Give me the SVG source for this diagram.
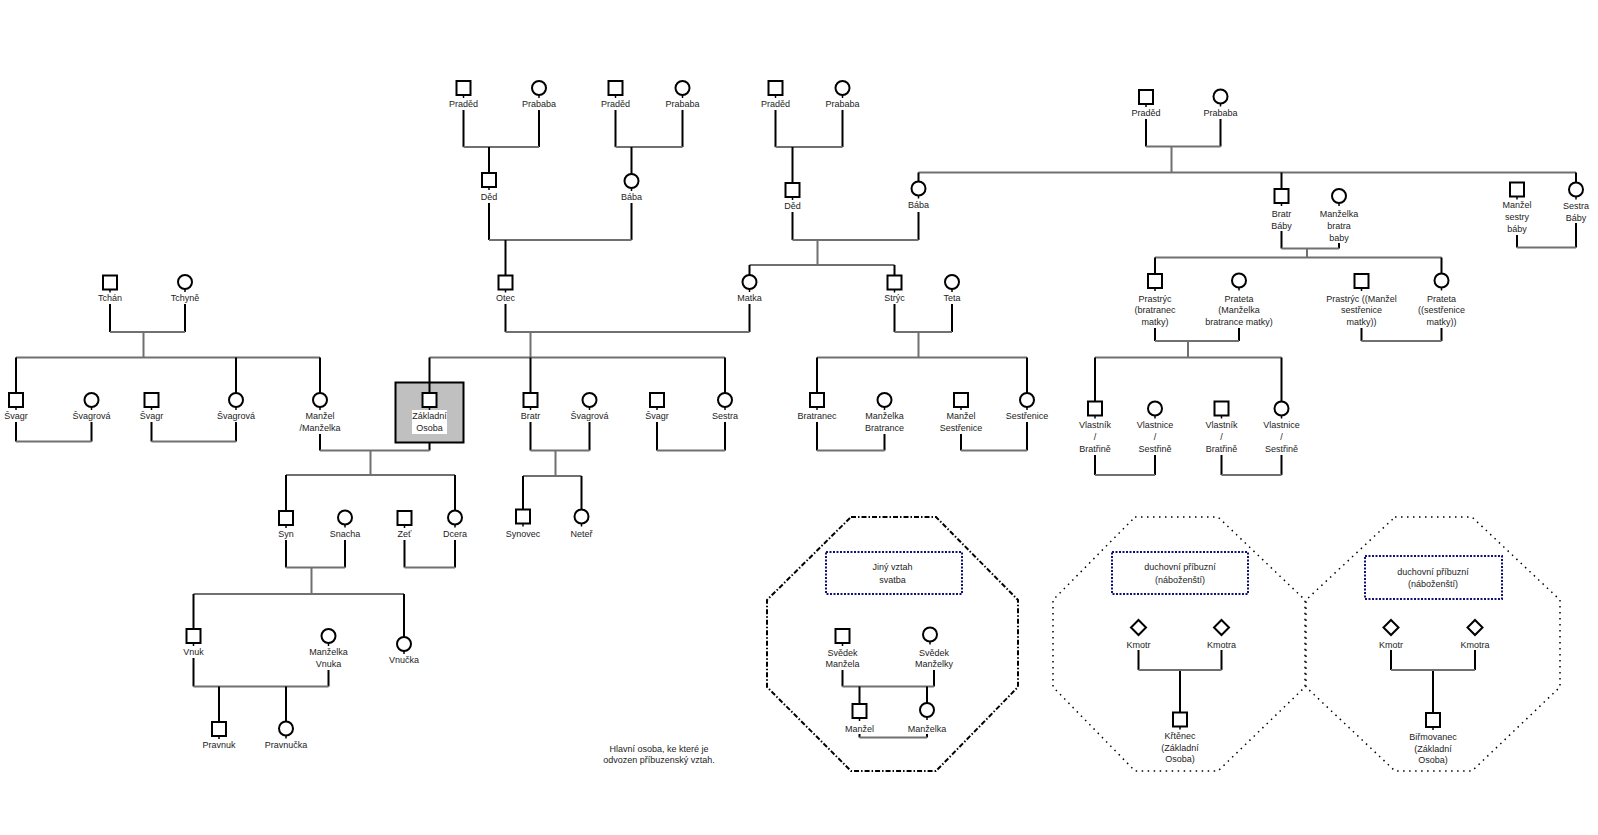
<svg xmlns="http://www.w3.org/2000/svg" xmlns:xlink="http://www.w3.org/1999/xlink" width="1598" height="835" viewBox="0 0 1598 835">
<style>
.s{fill:#fff;stroke:#000;stroke-width:2}
.t{font-family:"Liberation Sans",Arial,sans-serif;font-size:9px;fill:#1c1c1c;text-anchor:middle}
.k{stroke:#000;stroke-width:2;fill:none}
.g{stroke:#707070;stroke-width:2;fill:none}
.st{stroke:#000;stroke-width:1.5}
.o1{fill:none;stroke:#000;stroke-width:2;stroke-dasharray:5 2 1.5 2}
.o2{fill:none;stroke:#000;stroke-width:1.5;stroke-dasharray:1.5 4.5}
.bl{fill:#fff;stroke:#10107a;stroke-width:2;stroke-dasharray:2 1.5}
</style>
<defs>
<rect id="sq" class="s" x="-7" y="-7" width="14" height="14"/>
<circle id="ci" class="s" r="7"/>
<path id="di" class="s" d="M0 -7.5 L7.5 0 L0 7.5 L-7.5 0 Z"/>
<line id="sb" class="st" x1="0" y1="7" x2="0" y2="10"/>
</defs>
<rect width="1598" height="835" fill="#fff"/>

<g id="connectors">
<!-- generation of great-grandparents -->
<path class="k" d="M463.5 110V147M539 110V147M615.5 110V147M682.5 110V147M775.5 110V147M842.5 110V147"/>
<path class="g" d="M463.5 147H539M615.5 147H682.5M775.5 147H842.5"/>
<path class="k" d="M489 147V173M631.5 147V174M792.5 147V183"/>
<!-- grandparents -->
<path class="k" d="M489 203V240M631.5 203V240M792.5 212V240M918.5 212V240"/>
<path class="g" d="M489 240H631.5M792.5 240H918.5"/>
<path class="k" d="M505.5 240V275.5"/>
<path class="g" d="M817.5 240V265M749.5 265H894.5"/>
<path class="k" d="M749.5 265V275M894.5 265V275.5"/>
<!-- parents generation -->
<path class="k" d="M110 304V332M185 304V332M505.5 304V332M749.5 304V332M894.5 304V332M952 304V332"/>
<path class="g" d="M110 332H185M505.5 332H749.5M894.5 332H952"/>
<path class="g" d="M143.5 332V357.5M530.5 332V357.5M918.5 332V357.5"/>
<path class="g" d="M16 357.5H320M429.5 357.5H725M817 357.5H1027"/>
<path class="k" d="M16 357.5V393M236 357.5V393M320 357.5V393M429.5 357.5V393M530.5 357.5V393M725 357.5V393M817 357.5V393M1027 357.5V393"/>
<!-- couples of generation 0 -->
<path class="k" d="M16 422V441.5M91.5 422V441.5M151.5 422V441.5M236 422V441.5"/>
<path class="g" d="M16 441.5H91.5M151.5 441.5H236"/>
<path class="k" d="M320 434V450.5M429.5 434V450.5M530.5 422V450.5M589.5 422V450.5M657 422V450.5M725 422V450.5M817 422V450.5M884.5 434V450.5M961 434V450.5M1027 422V450.5"/>
<path class="g" d="M320 450.5H429.5M530.5 450.5H589.5M657 450.5H725M817 450.5H884.5M961 450.5H1027"/>
<!-- children -->
<path class="g" d="M370.5 450.5V475M286 475H455M555.5 450.5V476M523 476H581.5"/>
<path class="k" d="M286 475V511M455 475V510.5M523 476V509.5M581.5 476V509.5"/>
<path class="k" d="M286 540V567.5M345 540V567.5M404.5 540V567.5M455 540V567.5"/>
<path class="g" d="M286 567.5H345M404.5 567.5H455M311.5 567.5V594M193.5 594H404"/>
<path class="k" d="M193.5 594V629M404 594V637"/>
<path class="k" d="M193.5 658V686.5M328.5 670V686.5"/>
<path class="g" d="M193.5 686.5H328.5"/>
<path class="k" d="M219 686.5V722M286 686.5V721.5"/>
<!-- right family -->
<path class="k" d="M1146 119V146.5M1220.5 119V146.5"/>
<path class="g" d="M1146 146.5H1220.5M1171.5 146.5V172.5M918.5 172.5H1576"/>
<path class="k" d="M918.5 172.5V181.5M1281.5 172.5V189M1576 172.5V182.5"/>
<path class="k" d="M1281.5 231V248.5M1339 243V248.5M1517 235V247.5M1576 223V247.5"/>
<path class="g" d="M1281.5 248.5H1339M1517 247.5H1576M1307 248.5V257.5M1155 257.5H1441.5"/>
<path class="k" d="M1155 257.5V274M1441.5 257.5V273.5"/>
<path class="k" d="M1155 328V341M1239 328V341M1361.5 328V341M1441.5 328V341"/>
<path class="g" d="M1155 341H1239M1361.5 341H1441.5M1188 341V357.5M1095 357.5H1281.5"/>
<path class="k" d="M1095 357.5V401.5M1281.5 357.5V401.5"/>
<path class="k" d="M1095 455V475M1155 455V475M1221.5 455V475M1281.5 455V475"/>
<path class="g" d="M1095 475H1155M1221.5 475H1281.5"/>
<!-- wedding -->
<path class="k" d="M842.5 670V686.5M934 670V686.5"/>
<path class="g" d="M842.5 686.5H934"/>
<path class="k" d="M859.5 686.5V704M927 686.5V703"/>
<path class="k" d="M859.5 734V737.5M927 734V737.5"/>
<path class="g" d="M859.5 737.5H927"/>
<!-- godparents -->
<path class="k" d="M1138.5 650V670M1221.5 650V670M1180 670V712.5M1391 650V670M1475 650V670M1433 670V713"/>
<path class="g" d="M1138.5 670H1221.5M1391 670H1475"/>
</g>

<g id="frames">
<polygon id="oct1" class="o1" points="851,517 936,517 1018,600 1018,687 936,771 851,771 767,687 767,600"/>
<polygon id="oct2" class="o2" points="1135,517 1218,517 1305,600 1305,687 1218,771 1135,771 1053,687 1053,600"/>
<polygon id="oct3" class="o2" points="1395,517 1472,517 1560,600 1560,687 1472,771 1395,771 1306,687 1306,600"/>
</g>

<g id="n-praded1"><use xlink:href="#sq" x="463.5" y="88"/><use xlink:href="#sb" x="463.5" y="88"/><text class="t" x="463.5" y="107">Praděd</text></g>
<g id="n-prababa1"><use xlink:href="#ci" x="539" y="88"/><use xlink:href="#sb" x="539" y="88"/><text class="t" x="539" y="107">Prababa</text></g>
<g id="n-praded2"><use xlink:href="#sq" x="615.5" y="88"/><use xlink:href="#sb" x="615.5" y="88"/><text class="t" x="615.5" y="107">Praděd</text></g>
<g id="n-prababa2"><use xlink:href="#ci" x="682.5" y="88"/><use xlink:href="#sb" x="682.5" y="88"/><text class="t" x="682.5" y="107">Prababa</text></g>
<g id="n-praded3"><use xlink:href="#sq" x="775.5" y="88"/><use xlink:href="#sb" x="775.5" y="88"/><text class="t" x="775.5" y="107">Praděd</text></g>
<g id="n-prababa3"><use xlink:href="#ci" x="842.5" y="88"/><use xlink:href="#sb" x="842.5" y="88"/><text class="t" x="842.5" y="107">Prababa</text></g>
<g id="n-praded4"><use xlink:href="#sq" x="1146" y="97"/><use xlink:href="#sb" x="1146" y="97"/><text class="t" x="1146" y="116">Praděd</text></g>
<g id="n-prababa4"><use xlink:href="#ci" x="1220.5" y="96.5"/><use xlink:href="#sb" x="1220.5" y="96.5"/><text class="t" x="1220.5" y="116">Prababa</text></g>

<g id="n-ded1"><use xlink:href="#sq" x="489" y="180"/><use xlink:href="#sb" x="489" y="180"/><text class="t" x="489" y="200">Děd</text></g>
<g id="n-baba1"><use xlink:href="#ci" x="631.5" y="181"/><use xlink:href="#sb" x="631.5" y="181"/><text class="t" x="631.5" y="200">Bába</text></g>
<g id="n-ded2"><use xlink:href="#sq" x="792.5" y="190"/><use xlink:href="#sb" x="792.5" y="190"/><text class="t" x="792.5" y="208.5">Děd</text></g>
<g id="n-baba2"><use xlink:href="#ci" x="918.5" y="188.5"/><use xlink:href="#sb" x="918.5" y="188.5"/><text class="t" x="918.5" y="208">Bába</text></g>

<g id="n-tchan"><use xlink:href="#sq" x="110" y="282.5"/><use xlink:href="#sb" x="110" y="282.5"/><text class="t" x="110" y="301">Tchán</text></g>
<g id="n-tchyne"><use xlink:href="#ci" x="185" y="282"/><use xlink:href="#sb" x="185" y="282"/><text class="t" x="185" y="301">Tchyně</text></g>
<g id="n-otec"><use xlink:href="#sq" x="505.5" y="282.5"/><use xlink:href="#sb" x="505.5" y="282.5"/><text class="t" x="505.5" y="301">Otec</text></g>
<g id="n-matka"><use xlink:href="#ci" x="749.5" y="282"/><use xlink:href="#sb" x="749.5" y="282"/><text class="t" x="749.5" y="301">Matka</text></g>
<g id="n-stryc"><use xlink:href="#sq" x="894.5" y="282.5"/><use xlink:href="#sb" x="894.5" y="282.5"/><text class="t" x="894.5" y="301">Strýc</text></g>
<g id="n-teta"><use xlink:href="#ci" x="952" y="282"/><use xlink:href="#sb" x="952" y="282"/><text class="t" x="952" y="301">Teta</text></g>

<g id="n-svagr1"><use xlink:href="#sq" x="16" y="400"/><use xlink:href="#sb" x="16" y="400"/><text class="t" x="16" y="419">Švagr</text></g>
<g id="n-svagrova1"><use xlink:href="#ci" x="91.5" y="400"/><use xlink:href="#sb" x="91.5" y="400"/><text class="t" x="91.5" y="419">Švagrová</text></g>
<g id="n-svagr2"><use xlink:href="#sq" x="151.5" y="400"/><use xlink:href="#sb" x="151.5" y="400"/><text class="t" x="151.5" y="419">Švagr</text></g>
<g id="n-svagrova2"><use xlink:href="#ci" x="236" y="400"/><use xlink:href="#sb" x="236" y="400"/><text class="t" x="236" y="419">Švagrová</text></g>
<g id="n-manzel"><use xlink:href="#ci" x="320" y="400"/><use xlink:href="#sb" x="320" y="400"/><text class="t" x="320" y="419">Manžel</text><text class="t" x="320" y="431">/Manželka</text></g>
<g id="n-zakladni"><rect x="395.5" y="382.5" width="68" height="60" fill="#c0c0c0" stroke="#000" stroke-width="2"/><path class="k" d="M429.5 382.5V393"/><use xlink:href="#sq" x="429.5" y="400"/><use xlink:href="#sb" x="429.5" y="400"/><rect x="412" y="410" width="35" height="24" fill="#fff"/><text class="t" x="429.5" y="419">Základní</text><text class="t" x="429.5" y="431">Osoba</text></g>
<g id="n-bratr"><use xlink:href="#sq" x="530.5" y="400"/><use xlink:href="#sb" x="530.5" y="400"/><text class="t" x="530.5" y="419">Bratr</text></g>
<g id="n-svagrova3"><use xlink:href="#ci" x="589.5" y="400"/><use xlink:href="#sb" x="589.5" y="400"/><text class="t" x="589.5" y="419">Švagrová</text></g>
<g id="n-svagr3"><use xlink:href="#sq" x="657" y="400"/><use xlink:href="#sb" x="657" y="400"/><text class="t" x="657" y="419">Švagr</text></g>
<g id="n-sestra"><use xlink:href="#ci" x="725" y="400"/><use xlink:href="#sb" x="725" y="400"/><text class="t" x="725" y="419">Sestra</text></g>
<g id="n-bratranec"><use xlink:href="#sq" x="817" y="400"/><use xlink:href="#sb" x="817" y="400"/><text class="t" x="817" y="419">Bratranec</text></g>
<g id="n-manzelka-bratrance"><use xlink:href="#ci" x="884.5" y="400"/><use xlink:href="#sb" x="884.5" y="400"/><text class="t" x="884.5" y="419">Manželka</text><text class="t" x="884.5" y="431">Bratrance</text></g>
<g id="n-manzel-sestrenice"><use xlink:href="#sq" x="961" y="400"/><use xlink:href="#sb" x="961" y="400"/><text class="t" x="961" y="419">Manžel</text><text class="t" x="961" y="431">Sestřenice</text></g>
<g id="n-sestrenice"><use xlink:href="#ci" x="1027" y="400"/><use xlink:href="#sb" x="1027" y="400"/><text class="t" x="1027" y="419">Sestřenice</text></g>

<g id="n-syn"><use xlink:href="#sq" x="286" y="518"/><use xlink:href="#sb" x="286" y="518"/><text class="t" x="286" y="537">Syn</text></g>
<g id="n-snacha"><use xlink:href="#ci" x="345" y="517.5"/><use xlink:href="#sb" x="345" y="517.5"/><text class="t" x="345" y="537">Snacha</text></g>
<g id="n-zet"><use xlink:href="#sq" x="404.5" y="518"/><use xlink:href="#sb" x="404.5" y="518"/><text class="t" x="404.5" y="537">Zeť</text></g>
<g id="n-dcera"><use xlink:href="#ci" x="455" y="517.5"/><use xlink:href="#sb" x="455" y="517.5"/><text class="t" x="455" y="537">Dcera</text></g>
<g id="n-synovec"><use xlink:href="#sq" x="523" y="516.5"/><use xlink:href="#sb" x="523" y="516.5"/><text class="t" x="523" y="537">Synovec</text></g>
<g id="n-neter"><use xlink:href="#ci" x="581.5" y="516.5"/><use xlink:href="#sb" x="581.5" y="516.5"/><text class="t" x="581.5" y="537">Neteř</text></g>

<g id="n-vnuk"><use xlink:href="#sq" x="193.5" y="636"/><use xlink:href="#sb" x="193.5" y="636"/><text class="t" x="193.5" y="655">Vnuk</text></g>
<g id="n-manzelka-vnuka"><use xlink:href="#ci" x="328.5" y="636"/><use xlink:href="#sb" x="328.5" y="636"/><text class="t" x="328.5" y="655">Manželka</text><text class="t" x="328.5" y="667">Vnuka</text></g>
<g id="n-vnucka"><use xlink:href="#ci" x="404" y="644"/><use xlink:href="#sb" x="404" y="644"/><text class="t" x="404" y="663">Vnučka</text></g>
<g id="n-pravnuk"><use xlink:href="#sq" x="219" y="729"/><use xlink:href="#sb" x="219" y="729"/><text class="t" x="219" y="747.5">Pravnuk</text></g>
<g id="n-pravnucka"><use xlink:href="#ci" x="286" y="728.5"/><use xlink:href="#sb" x="286" y="728.5"/><text class="t" x="286" y="747.5">Pravnučka</text></g>

<g id="n-bratr-baby"><use xlink:href="#sq" x="1281.5" y="196"/><use xlink:href="#sb" x="1281.5" y="196"/><text class="t" x="1281.5" y="216.5">Bratr</text><text class="t" x="1281.5" y="228.5">Báby</text></g>
<g id="n-manzelka-bratra"><use xlink:href="#ci" x="1339" y="196"/><use xlink:href="#sb" x="1339" y="196"/><text class="t" x="1339" y="217">Manželka</text><text class="t" x="1339" y="229">bratra</text><text class="t" x="1339" y="240.5">baby</text></g>
<g id="n-manzel-sestry"><use xlink:href="#sq" x="1517" y="189.5"/><use xlink:href="#sb" x="1517" y="189.5"/><text class="t" x="1517" y="208">Manžel</text><text class="t" x="1517" y="220">sestry</text><text class="t" x="1517" y="231.5">báby</text></g>
<g id="n-sestra-baby"><use xlink:href="#ci" x="1576" y="189.5"/><use xlink:href="#sb" x="1576" y="189.5"/><text class="t" x="1576" y="208.5">Sestra</text><text class="t" x="1576" y="220.5">Báby</text></g>

<g id="n-prastryc1"><use xlink:href="#sq" x="1155" y="281"/><use xlink:href="#sb" x="1155" y="281"/><text class="t" x="1155" y="301.5">Prastrýc</text><text class="t" x="1155" y="313">(bratranec</text><text class="t" x="1155" y="325">matky)</text></g>
<g id="n-prateta1"><use xlink:href="#ci" x="1239" y="280.5"/><use xlink:href="#sb" x="1239" y="280.5"/><text class="t" x="1239" y="301.5">Prateta</text><text class="t" x="1239" y="313">(Manželka</text><text class="t" x="1239" y="325">bratrance matky)</text></g>
<g id="n-prastryc2"><use xlink:href="#sq" x="1361.5" y="281"/><use xlink:href="#sb" x="1361.5" y="281"/><text class="t" x="1361.5" y="301.5">Prastrýc ((Manžel</text><text class="t" x="1361.5" y="313">sestřenice</text><text class="t" x="1361.5" y="325">matky))</text></g>
<g id="n-prateta2"><use xlink:href="#ci" x="1441.5" y="280.5"/><use xlink:href="#sb" x="1441.5" y="280.5"/><text class="t" x="1441.5" y="301.5">Prateta</text><text class="t" x="1441.5" y="313">((sestřenice</text><text class="t" x="1441.5" y="325">matky))</text></g>

<g id="n-vlastnik1"><use xlink:href="#sq" x="1095" y="408.5"/><use xlink:href="#sb" x="1095" y="408.5"/><text class="t" x="1095" y="427.5">Vlastník</text><text class="t" x="1095" y="439.5">/</text><text class="t" x="1095" y="451.5">Bratřině</text></g>
<g id="n-vlastnice1"><use xlink:href="#ci" x="1155" y="408.5"/><use xlink:href="#sb" x="1155" y="408.5"/><text class="t" x="1155" y="427.5">Vlastnice</text><text class="t" x="1155" y="439.5">/</text><text class="t" x="1155" y="451.5">Sestřině</text></g>
<g id="n-vlastnik2"><use xlink:href="#sq" x="1221.5" y="408.5"/><use xlink:href="#sb" x="1221.5" y="408.5"/><text class="t" x="1221.5" y="427.5">Vlastník</text><text class="t" x="1221.5" y="439.5">/</text><text class="t" x="1221.5" y="451.5">Bratřině</text></g>
<g id="n-vlastnice2"><use xlink:href="#ci" x="1281.5" y="408.5"/><use xlink:href="#sb" x="1281.5" y="408.5"/><text class="t" x="1281.5" y="427.5">Vlastnice</text><text class="t" x="1281.5" y="439.5">/</text><text class="t" x="1281.5" y="451.5">Sestřině</text></g>

<g id="n-caption"><text class="t" x="659" y="752">Hlavní osoba, ke které je</text><text class="t" x="659" y="763">odvozen příbuzenský vztah.</text></g>

<g id="n-svatba-title"><rect class="bl" x="826" y="552" width="136" height="42"/><text class="t" x="892.5" y="570">Jiný vztah</text><text class="t" x="892.5" y="582.5">svatba</text></g>
<g id="n-svedek-manzela"><use xlink:href="#sq" x="842.5" y="636"/><use xlink:href="#sb" x="842.5" y="636"/><text class="t" x="842.5" y="655.5">Svědek</text><text class="t" x="842.5" y="667">Manžela</text></g>
<g id="n-svedek-manzelky"><use xlink:href="#ci" x="930" y="634.5"/><use xlink:href="#sb" x="930" y="634.5"/><text class="t" x="934" y="655.5">Svědek</text><text class="t" x="934" y="667">Manželky</text></g>
<g id="n-manzel-svatba"><use xlink:href="#sq" x="859.5" y="711"/><use xlink:href="#sb" x="859.5" y="711"/><text class="t" x="859.5" y="731.5">Manžel</text></g>
<g id="n-manzelka-svatba"><use xlink:href="#ci" x="927" y="710"/><use xlink:href="#sb" x="927" y="710"/><text class="t" x="927" y="731.5">Manželka</text></g>

<g id="n-krest-title"><rect class="bl" x="1112" y="552" width="136" height="42"/><text class="t" x="1180" y="570">duchovní příbuzní</text><text class="t" x="1180" y="582.5">(náboženští)</text></g>
<g id="n-kmotr1"><use xlink:href="#di" x="1138.5" y="627.5"/><text class="t" x="1138.5" y="647.5">Kmotr</text></g>
<g id="n-kmotra1"><use xlink:href="#di" x="1221.5" y="627.5"/><text class="t" x="1221.5" y="647.5">Kmotra</text></g>
<g id="n-krtenec"><use xlink:href="#sq" x="1180" y="719.5"/><use xlink:href="#sb" x="1180" y="719.5"/><text class="t" x="1180" y="739">Křtěnec</text><text class="t" x="1180" y="750.5">(Základní</text><text class="t" x="1180" y="762">Osoba)</text></g>

<g id="n-birmovani-title"><rect class="bl" x="1365" y="556" width="137" height="43"/><text class="t" x="1433" y="575">duchovní příbuzní</text><text class="t" x="1433" y="586.5">(náboženští)</text></g>
<g id="n-kmotr2"><use xlink:href="#di" x="1391" y="627.5"/><text class="t" x="1391" y="647.5">Kmotr</text></g>
<g id="n-kmotra2"><use xlink:href="#di" x="1475" y="627.5"/><text class="t" x="1475" y="647.5">Kmotra</text></g>
<g id="n-birmovanec"><use xlink:href="#sq" x="1433" y="720"/><use xlink:href="#sb" x="1433" y="720"/><text class="t" x="1433" y="740">Biřmovanec</text><text class="t" x="1433" y="751.5">(Základní</text><text class="t" x="1433" y="763">Osoba)</text></g>
</svg>
